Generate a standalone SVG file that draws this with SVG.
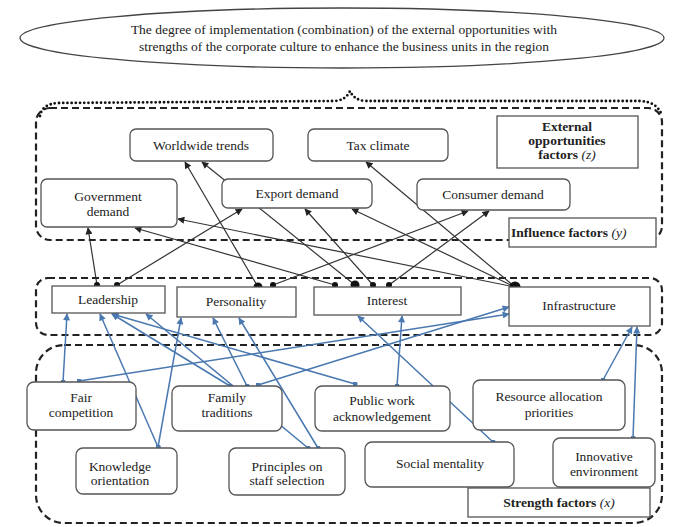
<svg xmlns="http://www.w3.org/2000/svg" width="681" height="527" viewBox="0 0 681 527">
<style>
.bg{fill:#fff}
.box{fill:#fff;stroke:#555;stroke-width:1.3}
.t{font-family:"Liberation Serif","DejaVu Serif",serif;font-size:13.5px;fill:#222;text-anchor:middle}
.b{font-weight:bold}
.n{font-weight:normal;font-style:italic}
.dash{fill:none;stroke:#222;stroke-width:2.2;stroke-dasharray:7 4}
.dot{fill:none;stroke:#111;stroke-width:2.8;stroke-dasharray:0 4.2;stroke-linecap:round}
.k{stroke:#333;stroke-width:1.2;fill:none;marker-start:url(#dk);marker-end:url(#ak)}
.bl{stroke:#4a78b0;stroke-width:1.5;fill:none;marker-start:url(#db);marker-end:url(#ab)}
.bigdot{fill:#111}
</style>
<defs>
<marker id="ak" viewBox="0 0 10 10" refX="9" refY="5" markerWidth="8" markerHeight="7" markerUnits="userSpaceOnUse" orient="auto"><path d="M0,0 L10,5 L0,10 z" fill="#222"/></marker>
<marker id="ab" viewBox="0 0 10 10" refX="9" refY="5" markerWidth="8" markerHeight="7" markerUnits="userSpaceOnUse" orient="auto"><path d="M0,0 L10,5 L0,10 z" fill="#4a78b0"/></marker>
<marker id="dk" viewBox="0 0 10 10" refX="5" refY="5" markerWidth="6" markerHeight="6" markerUnits="userSpaceOnUse"><circle cx="5" cy="5" r="5" fill="#111"/></marker>
<marker id="db" viewBox="0 0 10 10" refX="5" refY="5" markerWidth="5" markerHeight="5" markerUnits="userSpaceOnUse"><circle cx="5" cy="5" r="5" fill="#4a78b0"/></marker>
</defs>
<rect class="bg" x="0" y="0" width="681" height="527"/>

<g id="goal">
<ellipse cx="342" cy="38" rx="322" ry="30" fill="#fff" stroke="#444" stroke-width="1.3"/>
<text class="t" x="344" y="34">The degree of implementation (combination) of the external opportunities with</text>
<text class="t" x="344" y="51">strengths of the corporate culture to enhance the business units in the region</text>
</g>

<g id="containers">
<path class="dot" d="M40,116 Q42,104 58,103 L335,101 Q346,100 350,91 Q354,100 365,101 L640,101 Q658,102 662,116"/>
<rect class="dash" x="36" y="108" width="626" height="132" rx="14"/>
<rect class="dash" x="36" y="278" width="626" height="57" rx="12"/>
<rect class="dash" x="36" y="345" width="626" height="178" rx="28"/>
</g>

<g id="connectors">
<line class="k" x1="97" y1="285" x2="88" y2="228"/>
<line class="k" x1="117" y1="285" x2="242" y2="209"/>
<line class="k" x1="258" y1="287" x2="185" y2="162"/>
<line class="k" x1="355" y1="285" x2="202" y2="162"/>
<line class="k" x1="273" y1="285" x2="468" y2="211"/>
<line class="k" x1="389" y1="285" x2="489" y2="211"/>
<line class="k" x1="373" y1="285" x2="305" y2="209"/>
<line class="k" x1="515" y1="287" x2="352" y2="209"/>
<line class="k" x1="515" y1="287" x2="366" y2="162"/>
<line class="k" x1="515" y1="287" x2="178" y2="219"/>
<line class="k" x1="335" y1="285" x2="135" y2="228"/>
<circle class="bigdot" cx="258" cy="287" r="4.5"/>
<circle class="bigdot" cx="355" cy="285" r="4.5"/>
<circle class="bigdot" cx="515" cy="287" r="5.5"/>

<line class="bl" x1="63" y1="382" x2="67" y2="314"/>
<line class="bl" x1="158" y1="447" x2="100" y2="314"/>
<line class="bl" x1="158" y1="447" x2="181" y2="318"/>
<line class="bl" x1="230" y1="386" x2="112" y2="314"/>
<line class="bl" x1="355" y1="384" x2="112" y2="314"/>
<line class="bl" x1="308" y1="448" x2="146" y2="314"/>
<line class="bl" x1="247" y1="386" x2="213" y2="318"/>
<line class="bl" x1="318" y1="448" x2="239" y2="318"/>
<line class="bl" x1="493" y1="442" x2="358" y2="316"/>
<line class="bl" x1="397" y1="386" x2="402" y2="316"/>
<line class="bl" x1="79" y1="381" x2="509" y2="314"/>
<line class="bl" x1="258" y1="385" x2="509" y2="307"/>
<line class="bl" x1="603" y1="380" x2="632" y2="327"/>
<line class="bl" x1="633" y1="438" x2="637" y2="327"/>
</g>

<g id="worldwide-trends"><rect class="box" x="130" y="129" width="143" height="32" rx="6"/><text class="t" x="201" y="150">Worldwide  trends</text></g>
<g id="tax-climate"><rect class="box" x="308" y="129" width="140" height="32" rx="6"/><text class="t" x="378" y="150">Tax climate</text></g>
<g id="external-factors"><rect class="box" x="497" y="116" width="141" height="52"/><text class="t b" x="567" y="131">External</text><text class="t b" x="567" y="145">opportunities</text><text class="t b" x="567" y="159">factors <tspan class="n">(z)</tspan></text></g>
<g id="government-demand"><rect class="box" x="41" y="179" width="136" height="48" rx="6"/><text class="t" x="108" y="201">Government</text><text class="t" x="108" y="216">demand</text></g>
<g id="export-demand"><rect class="box" x="222" y="179" width="150" height="29" rx="6"/><text class="t" x="297" y="198">Export demand</text></g>
<g id="consumer-demand"><rect class="box" x="417" y="179" width="153" height="31" rx="6"/><text class="t" x="493" y="199">Consumer demand</text></g>
<g id="influence-factors"><rect class="box" x="509" y="218" width="147" height="29"/><text class="t b" x="511" y="237" style="text-anchor:start">Influence factors <tspan class="n">(y)</tspan></text></g>

<g id="leadership"><rect class="box" x="52" y="286" width="113" height="27"/><text class="t" x="108" y="304">Leadership</text></g>
<g id="personality"><rect class="box" x="177" y="287" width="119" height="30"/><text class="t" x="236" y="306">Personality</text></g>
<g id="interest"><rect class="box" x="314" y="287" width="147" height="28"/><text class="t" x="387" y="305">Interest</text></g>
<g id="infrastructure"><rect class="box" x="509" y="287" width="141" height="39"/><text class="t" x="579" y="310">Infrastructure</text></g>

<g id="fair-competition"><rect class="box" x="27" y="382" width="109" height="48" rx="7"/><text class="t" x="81" y="402">Fair</text><text class="t" x="81" y="417">competition</text></g>
<g id="family-traditions"><rect class="box" x="172" y="386" width="110" height="45" rx="7"/><text class="t" x="227" y="402">Family</text><text class="t" x="227" y="417">traditions</text></g>
<g id="public-work"><rect class="box" x="315" y="386" width="135" height="45" rx="7"/><text class="t" x="382" y="405">Public  work</text><text class="t" x="382" y="421">acknowledgement</text></g>
<g id="resource-allocation"><rect class="box" x="473" y="380" width="152" height="50" rx="7"/><text class="t" x="549" y="401">Resource allocation</text><text class="t" x="549" y="417">priorities</text></g>
<g id="knowledge-orientation"><rect class="box" x="76" y="448" width="101" height="46" rx="7"/><text class="t" x="120" y="471">Knowledge</text><text class="t" x="120" y="485">orientation</text></g>
<g id="principles-staff"><rect class="box" x="229" y="448" width="116" height="47" rx="7"/><text class="t" x="287" y="471">Principles  on</text><text class="t" x="287" y="485">staff selection</text></g>
<g id="social-mentality"><rect class="box" x="365" y="442" width="149" height="45" rx="7"/><text class="t" x="440" y="468">Social mentality</text></g>
<g id="innovative-environment"><rect class="box" x="553" y="438" width="102" height="49" rx="7"/><text class="t" x="604" y="461">Innovative</text><text class="t" x="604" y="476">environment</text></g>
<g id="strength-factors"><rect class="box" x="468" y="488" width="182" height="29"/><text class="t b" x="559" y="507">Strength factors <tspan class="n">(x)</tspan></text></g>
</svg>
